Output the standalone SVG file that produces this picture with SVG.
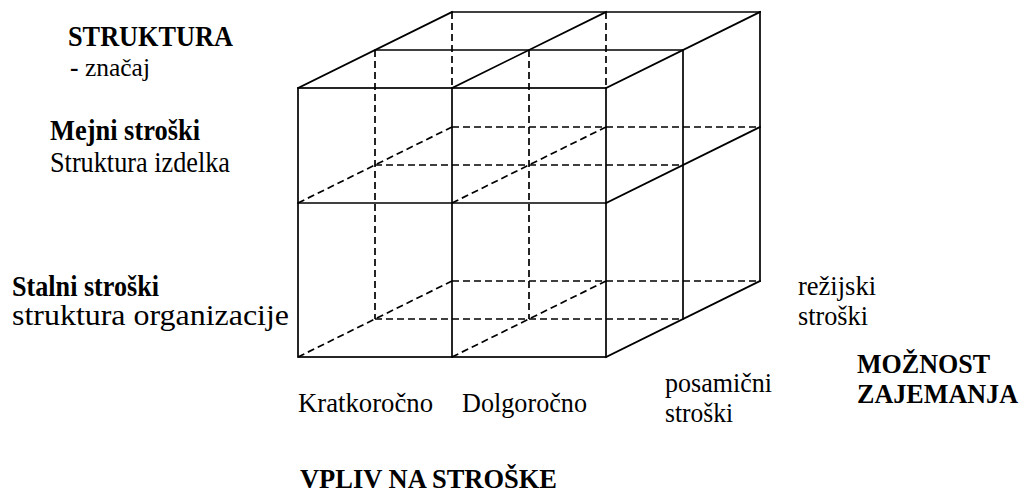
<svg xmlns="http://www.w3.org/2000/svg" width="1022" height="492" viewBox="0 0 1022 492">
  <style>
    .edge { stroke: #000; stroke-width: 1.7; fill: none; stroke-linecap: square; }
    .hidden { stroke: #000; stroke-width: 1.7; fill: none; stroke-dasharray: 7 4; }
    .lbl { font-family: 'Liberation Serif', 'Times New Roman', Times, 'Nimbus Roman', 'DejaVu Serif', serif; fill: #000; }
    .b { font-weight: bold; }
    .lg { font-size: 29px; }
    .md { font-size: 27px; }
    .sm { font-size: 26px; }
  </style>
  <rect width="1022" height="492" fill="#fff"/>

  <!-- 2 x 2 x 2 cost cube: hidden (back) edges dashed -->
  <g id="cube">
    <g id="cube-hidden" class="hidden">
      <!-- middle slice verticals -->
      <line x1="375" y1="50" x2="375" y2="319"/>
      <line x1="529" y1="50" x2="529" y2="319"/>
      <!-- back slice verticals above the front face -->
      <line x1="452" y1="12" x2="452" y2="88"/>
      <line x1="606" y1="12" x2="606" y2="88"/>
      <!-- middle slice horizontals -->
      <line x1="375" y1="165" x2="683" y2="165"/>
      <line x1="375" y1="319" x2="683" y2="319"/>
      <!-- back slice horizontals -->
      <line x1="452" y1="127" x2="760" y2="127"/>
      <line x1="452" y1="281" x2="760" y2="281"/>
      <!-- depth edges inside -->
      <line x1="298" y1="203" x2="452" y2="127"/>
      <line x1="452" y1="203" x2="606" y2="127"/>
      <line x1="298" y1="357" x2="452" y2="281"/>
      <line x1="452" y1="357" x2="606" y2="281"/>
    </g>
    <g id="cube-visible" class="edge">
      <!-- front face -->
      <rect x="298" y="88" width="308" height="269"/>
      <line x1="452" y1="88" x2="452" y2="357"/>
      <line x1="298" y1="203" x2="606" y2="203"/>
      <!-- top face -->
      <line x1="375" y1="50" x2="683" y2="50"/>
      <line x1="452" y1="12" x2="760" y2="12"/>
      <line x1="298" y1="88" x2="452" y2="12"/>
      <line x1="452" y1="88" x2="606" y2="12"/>
      <line x1="606" y1="88" x2="760" y2="12"/>
      <!-- right face -->
      <line x1="683" y1="50" x2="683" y2="319"/>
      <line x1="760" y1="12" x2="760" y2="281"/>
      <line x1="606" y1="203" x2="760" y2="127"/>
      <line x1="606" y1="357" x2="760" y2="281"/>
    </g>
  </g>

  <!-- vertical axis: structure -->
  <g id="label-struktura" class="lbl" font-family="Liberation Serif, serif">
    <text class="b lg" x="68" y="46" textLength="165" lengthAdjust="spacingAndGlyphs">STRUKTURA</text>
    <text class="sm" x="70" y="76" textLength="80" lengthAdjust="spacingAndGlyphs"><tspan class="b">-</tspan> značaj</text>
  </g>
  <g id="label-mejni" class="lbl" font-family="Liberation Serif, serif">
    <text class="b lg" x="50" y="140" textLength="150" lengthAdjust="spacingAndGlyphs">Mejni stroški</text>
    <text class="lg" x="50" y="171.5" textLength="180" lengthAdjust="spacingAndGlyphs">Struktura izdelka</text>
  </g>
  <g id="label-stalni" class="lbl" font-family="Liberation Serif, serif">
    <text class="b lg" x="12" y="296" textLength="147" lengthAdjust="spacingAndGlyphs">Stalni stroški</text>
    <text class="lg" x="12" y="325" textLength="277" lengthAdjust="spacingAndGlyphs">struktura organizacije</text>
  </g>

  <!-- horizontal axis: impact on costs -->
  <g id="label-kratkorocno" class="lbl" font-family="Liberation Serif, serif">
    <text class="md" x="298" y="412" textLength="135" lengthAdjust="spacingAndGlyphs">Kratkoročno</text>
  </g>
  <g id="label-dolgorocno" class="lbl" font-family="Liberation Serif, serif">
    <text class="md" x="462" y="412" textLength="125" lengthAdjust="spacingAndGlyphs">Dolgoročno</text>
  </g>
  <g id="label-vpliv" class="lbl" font-family="Liberation Serif, serif">
    <text class="b md" x="300" y="487.5" textLength="257" lengthAdjust="spacingAndGlyphs">VPLIV NA STROŠKE</text>
  </g>

  <!-- depth axis: allocation -->
  <g id="label-posamicni" class="lbl" font-family="Liberation Serif, serif">
    <text class="md" x="665" y="391.5" textLength="107" lengthAdjust="spacingAndGlyphs">posamični</text>
    <text class="md" x="665" y="421.5" textLength="68" lengthAdjust="spacingAndGlyphs">stroški</text>
  </g>
  <g id="label-rezijski" class="lbl" font-family="Liberation Serif, serif">
    <text class="md" x="798" y="295" textLength="78" lengthAdjust="spacingAndGlyphs">režijski</text>
    <text class="md" x="798" y="325" textLength="70" lengthAdjust="spacingAndGlyphs">stroški</text>
  </g>
  <g id="label-moznost" class="lbl" font-family="Liberation Serif, serif">
    <text class="b md" x="857" y="373" textLength="133" lengthAdjust="spacingAndGlyphs">MOŽNOST</text>
    <text class="b md" x="857" y="403" textLength="161" lengthAdjust="spacingAndGlyphs">ZAJEMANJA</text>
  </g>
</svg>
